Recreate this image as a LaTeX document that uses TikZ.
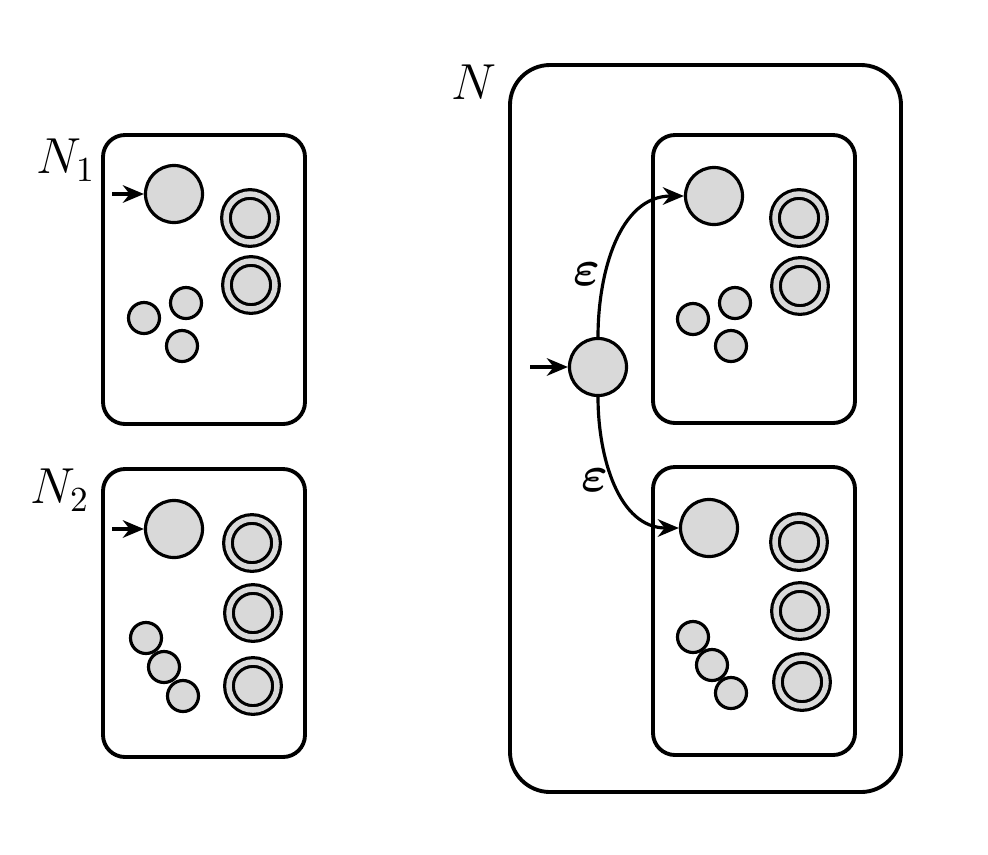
\documentclass[tikz,border=0pt]{standalone}
\usetikzlibrary{arrows.meta}
\tikzset{
  plainst/.style={circle,draw,line width=0.9pt,fill=black!15,inner sep=0pt,minimum size=0.57cm},
  smallst/.style={plainst,minimum size=0.31cm},
  acceptst/.style={plainst,minimum size=0.48cm,double=black!15,double distance=0.055cm},
  machine/.style={draw,line width=1.1pt,rounded corners=0.22cm},
  edgelbl/.style={inner sep=1pt,font=\Large\boldmath},
  >={Stealth[length=6pt,width=5pt]}
}
\begin{document}
\begin{tikzpicture}
        [x=0.01cm,y=-0.01cm]
        \useasboundingbox (0,0) rectangle (988,854);

        % N1
        \node (lN1) at (66,160) {\Large $N_1$};
        \draw[machine] (103,135) rectangle (305,424);
        \node[plainst] (a1) at (174,194) {};
        \node[acceptst] (a2) at (250,218) {};
        \node[acceptst] (a3) at (251,285) {};
        \node[smallst] (a4) at (144,318) {};
        \node[smallst] (a5) at (186,303) {};
        \node[smallst] (a6) at (182,346) {};
        \coordinate (ina) at (112,194);
        \draw[->,line width=0.9pt] (ina) -- (a1);

        % N2
        \node (lN2) at (60,490) {\Large $N_2$};
        \draw[machine] (103,469) rectangle (305,757);
        \node[plainst] (b1) at (174,529) {};
        \node[acceptst] (b2) at (252,543) {};
        \node[acceptst] (b3) at (253,613) {};
        \node[acceptst] (b4) at (253,686) {};
        \node[smallst] (b5) at (146,638) {};
        \node[smallst] (b6) at (164,667) {};
        \node[smallst] (b7) at (183,696) {};
        \coordinate (inb) at (112,529);
        \draw[->,line width=0.9pt] (inb) -- (b1);

        % N
        \node (lN) at (474,82) {\Large $N$};
        \draw[machine,rounded corners=0.4cm] (510,65) rectangle (901,792);
        \draw[machine] (653,135) rectangle (855,423);
        \draw[machine] (653,467) rectangle (855,755);

        \node[plainst] (c1) at (714,196) {};
        \node[acceptst] (c2) at (799,218) {};
        \node[acceptst] (c3) at (800,286) {};
        \node[smallst] (c4) at (693,319) {};
        \node[smallst] (c5) at (735,303) {};
        \node[smallst] (c6) at (731,346) {};

        \node[plainst] (d1) at (709,528) {};
        \node[acceptst] (d2) at (799,542) {};
        \node[acceptst] (d3) at (800,611) {};
        \node[acceptst] (d4) at (802,682) {};
        \node[smallst] (d5) at (693,637) {};
        \node[smallst] (d6) at (712,665) {};
        \node[smallst] (d7) at (731,693) {};

        \node[plainst] (q0) at (598,367) {};
        \coordinate (inq) at (530,367);
        \draw[->,line width=0.9pt] (inq) -- (q0);

        \draw[->,line width=0.9pt] (q0.north) to[out=90,in=180] node[pos=0.32,left,edgelbl] {$\varepsilon$} (c1.west);
        \draw[->,line width=0.9pt] (q0.south) to[out=-90,in=180] node[pos=0.47,left,edgelbl] {$\varepsilon$} (d1.west);
      \end{tikzpicture}
\end{document}
